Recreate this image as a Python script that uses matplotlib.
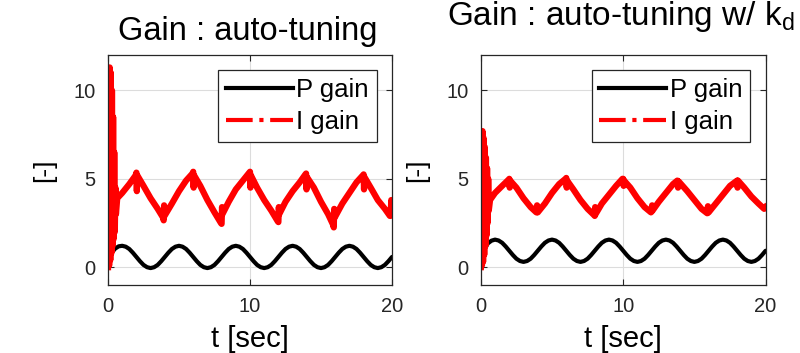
import numpy as np
import matplotlib
matplotlib.use("Agg")
import matplotlib.pyplot as plt
from matplotlib.lines import Line2D

plt.rcParams['font.family'] = ['Liberation Sans', 'DejaVu Sans']
plt.rcParams['mathtext.fontset'] = 'custom'
plt.rcParams['mathtext.rm'] = 'Liberation Sans'
plt.rcParams['mathtext.it'] = 'Liberation Sans'

# P gain, sampled every 0.25 s from 0 to 20 s
t_p = np.arange(81) * 0.25

p_gain_auto = [0.2, 0.8, 1.05, 1.18,
               1.21, 1.16, 1.03, 0.82, 0.58, 0.34, 0.13, 0.0, -0.05, 0.0, 0.13, 0.34, 0.58, 0.82, 1.03, 1.16,
               1.21, 1.16, 1.03, 0.82, 0.58, 0.34, 0.13, 0.0, -0.05, 0.0, 0.13, 0.34, 0.58, 0.82, 1.03, 1.16,
               1.21, 1.16, 1.03, 0.82, 0.58, 0.34, 0.13, 0.0, -0.05, 0.0, 0.13, 0.34, 0.58, 0.82, 1.03, 1.16,
               1.21, 1.16, 1.03, 0.82, 0.58, 0.34, 0.13, 0.0, -0.05, 0.0, 0.13, 0.34, 0.58, 0.82, 1.03, 1.16,
               1.21, 1.16, 1.03, 0.82, 0.58, 0.34, 0.13, 0.0, -0.05, 0.0, 0.13, 0.34, 0.58]

p_gain_kd = [0.2, 1.0, 1.35, 1.5,
             1.56, 1.51, 1.38, 1.17, 0.93, 0.69, 0.48, 0.35, 0.30, 0.35, 0.48, 0.69, 0.93, 1.17, 1.38, 1.51,
             1.56, 1.51, 1.38, 1.17, 0.93, 0.69, 0.48, 0.35, 0.30, 0.35, 0.48, 0.69, 0.93, 1.17, 1.38, 1.51,
             1.56, 1.51, 1.38, 1.17, 0.93, 0.69, 0.48, 0.35, 0.30, 0.35, 0.48, 0.69, 0.93, 1.17, 1.38, 1.51,
             1.56, 1.51, 1.38, 1.17, 0.93, 0.69, 0.48, 0.35, 0.30, 0.35, 0.48, 0.69, 0.93, 1.17, 1.38, 1.51,
             1.56, 1.51, 1.38, 1.17, 0.93, 0.69, 0.48, 0.35, 0.30, 0.35, 0.48, 0.69, 0.93]

# I gain, auto-tuning
t_i_auto = [0, .04, .08, .12, .16, .20, .24, .28, .32, .36, .40, .44, .48, .52, .56,
            .65, 1.0, 1.5, 1.95, 2.0, 2.03, 2.06, 2.5, 3.0, 3.5, 3.88, 3.92, 3.95, 3.98,
            4.5, 5.0, 5.5, 5.95, 6.0, 6.03, 6.06, 6.5, 7.0, 7.5, 7.95, 8.0, 8.03, 8.06,
            8.5, 9.0, 9.5, 9.95, 10.0, 10.03, 10.06, 10.5, 11.0, 11.5, 11.95, 12.0, 12.03, 12.06,
            12.5, 13.0, 13.5, 13.9, 13.95, 13.98, 14.01, 14.5, 15.0, 15.5, 15.85, 15.9, 15.93, 15.96,
            16.5, 17.0, 17.5, 17.95, 18.0, 18.03, 18.06, 18.5, 19.0, 19.5, 19.85, 19.9, 19.95, 20.0]
i_gain_auto = [0, 11.0, 0.1, 11.3, 0.4, 11.0, 0.8, 10.0, 1.2, 8.5, 1.6, 6.5, 2.0, 4.5, 3.0,
               3.9, 4.2, 4.7, 5.2, 5.35, 4.3, 5.2, 4.6, 3.9, 3.3, 2.8, 2.65, 3.5, 2.9,
               3.6, 4.3, 4.9, 5.3, 5.4, 4.5, 5.2, 4.6, 3.8, 3.1, 2.5, 2.45, 3.4, 3.0,
               3.7, 4.4, 4.9, 5.35, 5.4, 4.5, 5.2, 4.5, 3.8, 3.2, 2.6, 2.55, 3.4, 3.0,
               3.7, 4.3, 4.8, 5.25, 5.3, 4.4, 5.1, 4.5, 3.7, 3.0, 2.4, 2.25, 3.3, 2.8,
               3.6, 4.2, 4.8, 5.2, 5.25, 4.4, 5.1, 4.5, 3.8, 3.3, 2.9, 2.9, 3.8, 3.0]

# I gain, auto-tuning w/ kd
t_i_kd = [0, .04, .08, .12, .16, .20, .24, .28, .32, .36, .40, .44, .48, .52, .56,
          .65, 1.0, 1.5, 1.95, 2.0, 2.03, 2.06, 2.5, 3.0, 3.5, 3.9, 3.95, 4.0,
          4.5, 5.0, 5.5, 5.95, 6.0, 6.03, 6.06, 6.5, 7.0, 7.5, 7.95, 8.0, 8.03, 8.06,
          8.5, 9.0, 9.5, 9.95, 10.0, 10.03, 10.06, 10.5, 11.0, 11.5, 11.95, 12.0, 12.03, 12.06,
          12.5, 13.0, 13.5, 13.8, 13.85, 13.9, 14.5, 15.0, 15.5, 15.9, 15.95, 16.0,
          16.5, 17.0, 17.5, 18.0, 18.03, 18.06, 18.5, 19.0, 19.5, 19.9, 20.0]
i_gain_kd = [0, 7.6, 0.1, 7.7, 0.3, 7.3, 0.7, 6.8, 1.2, 6.2, 1.8, 5.6, 2.5, 5.0, 3.2,
             3.8, 4.2, 4.6, 4.95, 5.0, 4.5, 4.9, 4.5, 3.9, 3.4, 3.1, 3.5, 3.1,
             3.6, 4.2, 4.7, 5.0, 5.05, 4.5, 4.9, 4.4, 3.8, 3.3, 2.95, 2.9, 3.4, 3.0,
             3.6, 4.1, 4.6, 5.0, 5.0, 4.6, 4.9, 4.5, 3.9, 3.4, 3.1, 3.15, 3.5, 3.2,
             3.7, 4.2, 4.7, 4.9, 4.5, 4.85, 4.3, 3.8, 3.3, 3.05, 3.45, 3.1,
             3.6, 4.1, 4.6, 4.9, 4.5, 4.9, 4.5, 4.0, 3.6, 3.3, 3.4]

fig = plt.figure(figsize=(8, 3.53), dpi=100)
ax1 = fig.add_axes([0.135, 0.193, 0.355, 0.651])
ax2 = fig.add_axes([0.601, 0.193, 0.356, 0.651])

for ax, pg, it, ig in [(ax1, p_gain_auto, t_i_auto, i_gain_auto),
                       (ax2, p_gain_kd, t_i_kd, i_gain_kd)]:
    ax.plot(t_p, pg, color='black', lw=3, solid_capstyle='round')
    ax.plot(it, ig, color='red', lw=4.5)
    ax.set_xlim(0, 20)
    ax.set_ylim(-1, 12)
    ax.set_xticks([0, 10, 20])
    ax.set_yticks([0, 5, 10])
    ax.grid(True, color='#dcdcdc', lw=0.8)
    ax.set_axisbelow(True)
    ax.tick_params(direction='in', top=True, right=True, labelsize=14.5,
                   colors='#262626', length=4, pad=9)
    for s in ax.spines.values():
        s.set_color('#262626')
        s.set_linewidth(0.9)
    ax.set_xlabel('t [sec]', fontsize=21, labelpad=6)
    ax.set_ylabel('[-]', fontsize=19, labelpad=12)
    handles = [Line2D([], [], color='black', lw=3),
               Line2D([], [], color='red', lw=3, ls='-.')]
    leg = ax.legend(handles, ['P gain', 'I gain'], loc='upper right', fontsize=18.5,
                    handlelength=2.6, handletextpad=0.15, borderpad=0.3,
                    labelspacing=0.3, fancybox=False, framealpha=1,
                    edgecolor='#262626', borderaxespad=0.6)
    leg.get_frame().set_linewidth(0.9)

fig.text(0.31, 0.887, 'Gain : auto-tuning', fontsize=23.5, ha='center', va='baseline')
fig.text(0.559, 0.929, r'Gain : auto-tuning w/ k$_{\rm d}$', fontsize=24, ha='left', va='baseline')

fig.savefig('out.png', dpi=100)
